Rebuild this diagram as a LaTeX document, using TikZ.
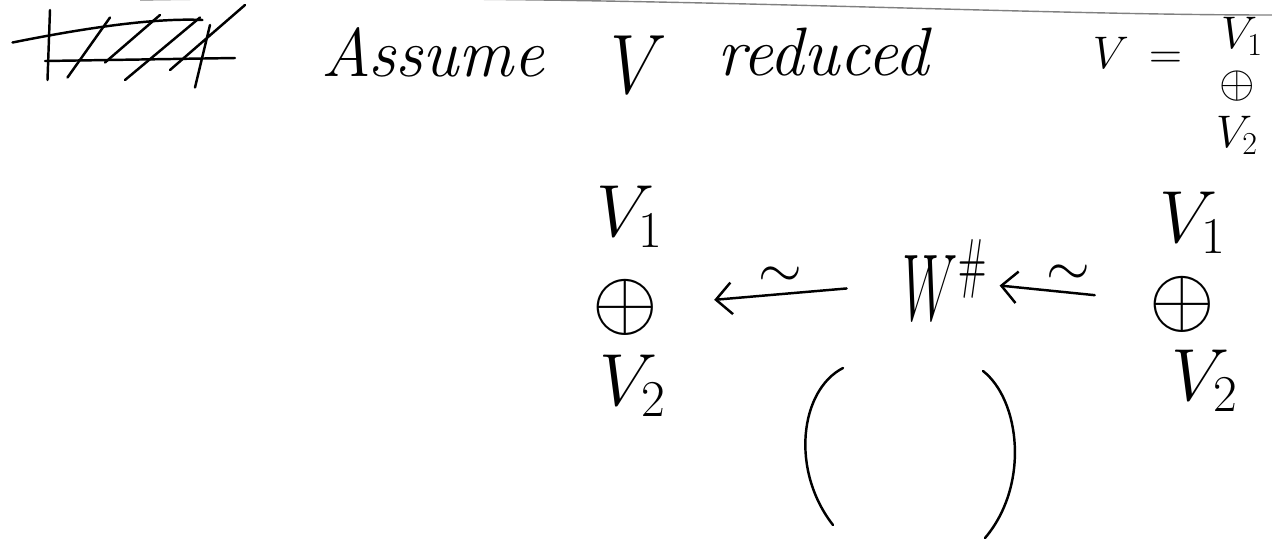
\RequirePackage{fix-cm}
\documentclass[tikz,border=0pt]{standalone}
\usetikzlibrary{arrows.meta}
\tikzset{
  ink/.style={line width=1.4pt, line cap=round, line join=round},
  big/.style={font=\fontsize{42}{46}\selectfont, inner sep=0pt},
  plus/.style={font=\fontsize{48}{50}\selectfont, inner sep=0pt},
  small/.style={font=\fontsize{26}{28}\selectfont, inner sep=0pt},
  word/.style={font=\fontsize{39}{42}\selectfont\itshape, inner sep=0pt},
  iso/.style={ink, -{Straight Barb[length=9pt, width=18pt, line width=1.4pt]}},
  tilde/.style={above=3pt, font=\fontsize{32}{34}\selectfont, inner sep=0pt},
}
\begin{document}
\begin{tikzpicture}
  \useasboundingbox (0,0) rectangle (25.44,-11.02);
  % Coordinates
  \coordinate (A) at (8.66, -1.05);
  \coordinate (B) at (12.78, -1.30);
  \coordinate (C) at (16.46, -1.05);
  \coordinate (D) at (22.75, -1.05);
  \coordinate (E) at (24.84, -0.72);
  \coordinate (F) at (24.74, -1.72);
  \coordinate (G) at (24.74, -2.70);
  \coordinate (H) at (12.60, -4.33);
  \coordinate (I) at (12.50, -6.15);
  \coordinate (J) at (12.65, -7.72);
  \coordinate (K) at (18.90, -5.60);
  \coordinate (L) at (23.85, -4.45);
  \coordinate (M) at (23.64, -6.08);
  \coordinate (N) at (24.10, -7.62);

  % Drawing
  \draw[gray, line width=0.8pt] (2.8,0.0) .. controls (12,0.15) and (20,-0.3) .. (25.44,-0.30);
  % crossed out word
  \draw[ink] (0.25,-0.85) .. controls (1.5,-0.6) and (3.0,-0.35) .. (4.05,-0.4);
  \draw[ink] (0.9,-1.22) -- (4.7,-1.16);
  \draw[ink] (1.0,-0.2) -- (0.95,-1.6);
  \draw[ink] (1.35,-1.55) -- (2.2,-0.35) (2.1,-1.25) -- (3.2,-0.3) (2.5,-1.6) -- (4.0,-0.35)
             (3.4,-1.4) -- (4.9,-0.1) (3.9,-1.75) -- (4.2,-0.5);
  \node[word] (assume) at (A) {Assume};
  \node[big, font=\fontsize{48}{50}\selectfont] (v) at (B) {\scalebox{0.85}[1]{$V$}};
  \node[word] (reduced) at (C) {reduced};
  \node[small] (veq) at (D) {$V\,=$};
  \node[small] (tv1) at (E) {$V_1$};
  \node[small] (tsum) at (F) {$\oplus$};
  \node[small] (tv2) at (G) {$V_2$};
  \node[big] (lv1) at (H) {$V_1$};
  \node[plus] (lsum) at (I) {$\oplus$};
  \node[big] (lv2) at (J) {$V_2$};
  \node[big, font=\fontsize{54}{56}\selectfont] (w) at (K) {\scalebox{0.55}[1]{$W^{\#}$}};
  \node[big] (rv1) at (L) {$V_1$};
  \node[plus] (rsum) at (M) {$\oplus$};
  \node[big] (rv2) at (N) {$V_2$};
  \draw[iso, shorten <=32pt, shorten >=32pt] (w) -- node[tilde] {$\sim$} (lsum);
  \draw[iso, shorten <=31pt, shorten >=7pt] (rsum) -- node[tilde] {$\sim$} (w);
  \draw[ink] (16.86,-7.36) .. controls (16.0,-7.8) and (15.8,-9.4) .. (16.66,-10.5);
  \draw[ink] (19.66,-7.42) .. controls (20.4,-8.0) and (20.6,-9.7) .. (19.70,-10.76);
\end{tikzpicture}
\end{document}
